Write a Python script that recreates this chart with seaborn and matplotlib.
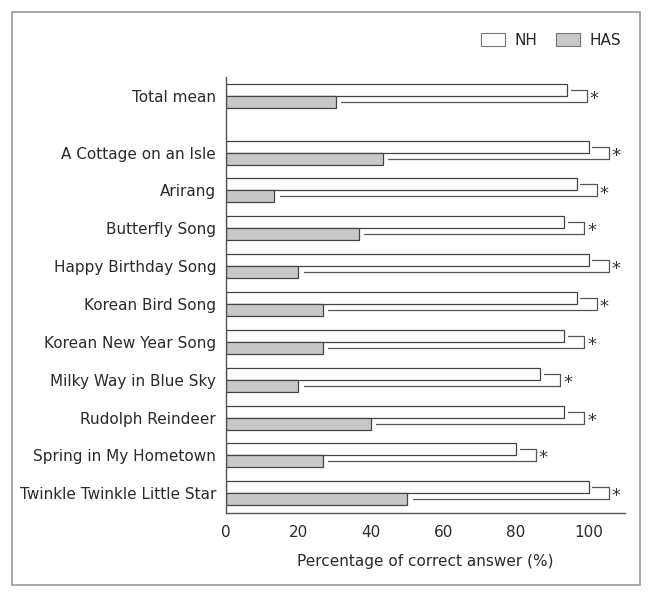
import numpy as np
import pandas as pd
import matplotlib
matplotlib.use("Agg")
import matplotlib.pyplot as plt
import seaborn as sns
from matplotlib.patches import Patch

# =========================
# dados
# =========================
categorias = [
    "Total mean",
    "A Cottage on an Isle",
    "Arirang",
    "Butterfly Song",
    "Happy Birthday Song",
    "Korean Bird Song",
    "Korean New Year Song",
    "Milky Way in Blue Sky",
    "Rudolph Reindeer",
    "Spring in My Hometown",
    "Twinkle Twinkle Little Star",
]
posicoes = [-1.5, 0, 1, 2, 3, 4, 5, 6, 7, 8, 9]
nh = [94.0, 100.0, 96.7, 93.3, 100.0, 96.7, 93.3, 86.7, 93.3, 80.0, 100.0]
has = [30.3, 43.3, 13.3, 36.7, 20.0, 26.7, 26.7, 20.0, 40.0, 26.7, 50.0]
grupos = ["NH", "HAS"]
cores = {"NH": "white", "HAS": "#c8c8c8"}

df = pd.DataFrame({
    "pos": posicoes * 2,
    "valor": nh + has,
    "grupo": ["NH"] * len(nh) + ["HAS"] * len(has),
})

# =========================
# grafico
# =========================
sns.set_style("white")
plt.rcParams["font.family"] = ["DejaVu Sans"]
cor_texto = "#2a2a2a"
fs = 11.0

fig = plt.figure(figsize=(6.53, 5.99), dpi=100)
ax = fig.add_axes([0.346, 0.1436, 0.611, 0.728])

sns.barplot(
    data=df,
    x="valor",
    y="pos",
    hue="grupo",
    hue_order=grupos,
    palette=cores,
    orient="h",
    native_scale=True,
    width=0.635,
    edgecolor="#444444",
    linewidth=0.9,
    ax=ax,
    legend=False,
)

ax.set_ylim(9.52, -2.0)
ax.set_xlim(0, 110)
ax.set_yticks(posicoes)
ax.set_yticklabels(categorias, fontsize=fs, color=cor_texto)
ax.set_xticks([0, 20, 40, 60, 80, 100])
ax.tick_params(axis="x", direction="in", length=4, color="#555555",
               labelsize=fs, labelcolor=cor_texto, pad=9)
ax.tick_params(axis="y", length=0, pad=7)
ax.set_xlabel("Percentage of correct answer (%)", fontsize=fs,
              color=cor_texto, labelpad=10)
ax.set_ylabel("")

sns.despine(ax=ax)
for lado in ["left", "bottom"]:
    ax.spines[lado].set_color("#555555")
    ax.spines[lado].set_linewidth(1.0)

# colchetes de significancia
h = 0.635 / 4
for p, a, b in zip(posicoes, nh, has):
    xb = max(a, b) + 5.5
    ax.plot([a + 1.0, xb, xb, b + 1.5], [p - h, p - h, p + h, p + h],
            color="#555555", lw=0.9)
    ax.text(xb + 0.8, p + 0.08, "*", ha="left", va="center",
            fontsize=13, color="#333333")

# legenda
handles = [Patch(facecolor=cores[g], edgecolor="#777777", linewidth=0.8, label=g)
           for g in grupos]
fig.legend(handles=handles, loc="center right", bbox_to_anchor=(0.972, 0.933),
           ncol=2, frameon=False, fontsize=fs, handlelength=1.6,
           handleheight=1.0, columnspacing=1.2, handletextpad=0.6)

# moldura
fig.patches.append(plt.Rectangle((12 / 653, 14 / 599), 628 / 653, 573 / 599,
                                 transform=fig.transFigure, fill=False,
                                 edgecolor="#999999", linewidth=1.2))

plt.savefig("out.png", dpi=100)
